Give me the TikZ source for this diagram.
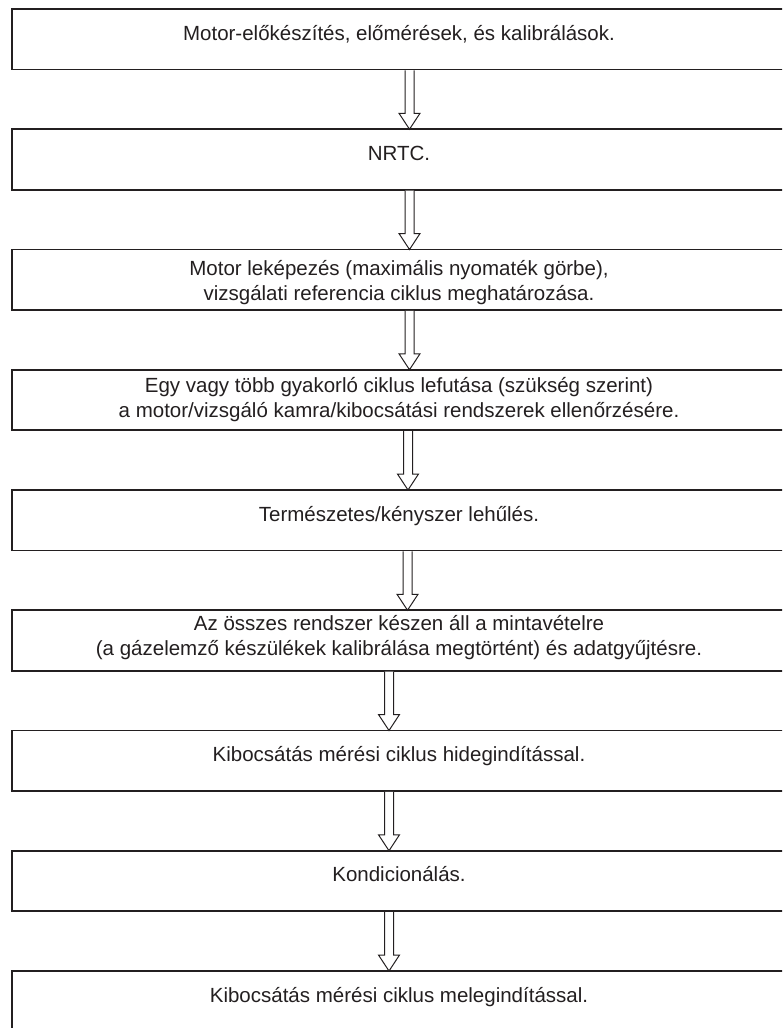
\documentclass[tikz,border=0pt]{standalone}
\usepackage{fontspec}
\setmainfont{Liberation Sans}
\usetikzlibrary{calc}
\definecolor{boxline}{RGB}{35,31,32}

\tikzset{
    stepbox/.style={draw=boxline, line width=1.8pt, minimum width=780pt, minimum height=60.5pt,
        anchor=north west, inner sep=0pt, outer sep=0pt},
    steptext/.style={anchor=base, align=center, inner sep=0pt, text=boxline,
        font=\fontsize{20.5pt}{24.5pt}\selectfont},
    blockarrow/.style={draw=boxline, line width=1pt, fill=white,
        to path={let \p1=(\tikztostart), \p2=(\tikztotarget) in
            (\x1-4.5pt,\y1-0.9pt) -- (\x1-4.5pt,\y2+16pt) -- (\x1-10.5pt,\y2+16pt) -- (\x1,\y2)
            -- (\x1+10.5pt,\y2+16pt) -- (\x1+4.5pt,\y2+16pt) -- (\x1+4.5pt,\y1-0.9pt)}}
}

\begin{document}
\begin{tikzpicture}[x=1pt, y=-1pt]
    \useasboundingbox (0,0) rectangle (782,1028);
    \clip (0,0) rectangle (782,1028);
    % boxes
    \node[stepbox] (b1) at (12,9) {};
    \node[stepbox] (b2) at (12,129.25) {};
    \node[stepbox] (b3) at (12,249.5) {};
    \node[stepbox] (b4) at (12,369.75) {};
    \node[stepbox] (b5) at (12,490) {};
    \node[stepbox] (b6) at (12,610.25) {};
    \node[stepbox] (b7) at (12,730.5) {};
    \node[stepbox] (b8) at (12,850.75) {};
    \node[stepbox] (b9) at (12,971) {};
    % texts (base = last line)
    \node[steptext] (t1) at (399,40) {Motor-előkészítés, előmérések, és kalibrálások.};
    \node[steptext] (t2) at (399,160.25) {NRTC.};
    \node[steptext] (t3) at (399,300) {Motor leképezés (maximális nyomaték görbe),\\ vizsgálati referencia ciklus meghatározása.};
    \node[steptext] (t4) at (399,417.25) {Egy vagy több gyakorló ciklus lefutása (szükség szerint)\\ a motor/vizsgáló kamra/kibocsátási rendszerek ellenőrzésére.};
    \node[steptext] (t5) at (399,521) {Természetes/kényszer lehűlés.};
    \node[steptext] (t6) at (399,655.25) {Az összes rendszer készen áll a mintavételre\\ (a gázelemző készülékek kalibrálása megtörtént) és adatgyűjtésre.};
    \node[steptext] (t7) at (399,761.5) {Kibocsátás mérési ciklus hidegindítással.};
    \node[steptext] (t8) at (399,881.75) {Kondicionálás.};
    \node[steptext] (t9) at (399,1002) {Kibocsátás mérési ciklus melegindítással.};
    % arrows
    \draw[blockarrow] ([xshift=7.5pt]b1.south) to ([xshift=7.5pt]b2.north);
    \draw[blockarrow] ([xshift=7.5pt]b2.south) to ([xshift=7.5pt]b3.north);
    \draw[blockarrow] ([xshift=7.5pt]b3.south) to ([xshift=7.5pt]b4.north);
    \draw[blockarrow] ([xshift=6pt]b4.south) to ([xshift=6pt]b5.north);
    \draw[blockarrow] ([xshift=5.5pt]b5.south) to ([xshift=5.5pt]b6.north);
    \draw[blockarrow] ([xshift=-13pt]b6.south) to ([xshift=-13pt]b7.north);
    \draw[blockarrow] ([xshift=-13pt]b7.south) to ([xshift=-13pt]b8.north);
    \draw[blockarrow] ([xshift=-13pt]b8.south) to ([xshift=-13pt]b9.north);
\end{tikzpicture}
\end{document}
